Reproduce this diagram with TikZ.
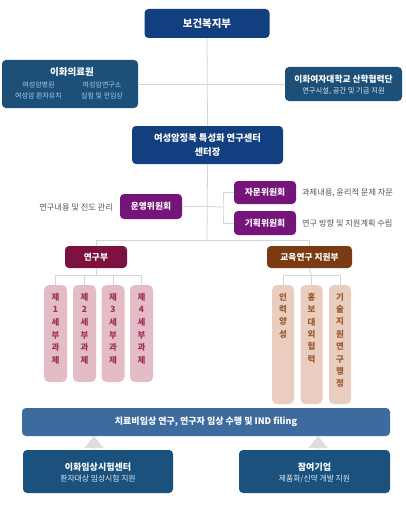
\documentclass[tikz,border=0pt]{standalone}
\usepackage{fontspec}
\setmainfont{Noto Sans CJK KR}
\usetikzlibrary{arrows.meta}
\definecolor{navy}{HTML}{123F7F}
\definecolor{teal}{HTML}{1D5079}
\definecolor{purp}{HTML}{75157A}
\definecolor{maroon}{HTML}{7D1240}
\definecolor{brownc}{HTML}{7A3A12}
\definecolor{pinkc}{HTML}{E3BCC6}
\definecolor{pinkt}{HTML}{A0305A}
\definecolor{tanc}{HTML}{E9CDBE}
\definecolor{tant}{HTML}{9A5A30}
\definecolor{barc}{HTML}{3D6B9D}
\definecolor{botc}{HTML}{1B527D}
\definecolor{linec}{HTML}{D5D5D5}
\definecolor{sidet}{HTML}{555555}
\definecolor{subblue}{HTML}{A9CBEA}
\definecolor{subw}{HTML}{DCE8F4}
\definecolor{arrc}{HTML}{DEDEDE}
\tikzset{
  box/.style={rounded corners=4pt, inner sep=0pt, align=center, text=white},
  ttl/.style={font=\bfseries\fontsize{9}{12}\selectfont, text=white, align=center, inner sep=0pt},
  subt/.style={font=\fontsize{7}{10.5}\selectfont, align=center, inner sep=0pt},
  side/.style={font=\fontsize{8.2}{10}\selectfont, text=sidet, inner sep=0pt},
  conn/.style={draw=linec, line width=0.8pt},
  pcol/.style={rounded corners=5pt, fill=pinkc, minimum width=23pt, minimum height=97pt, inner sep=0pt},
  tcol/.style={rounded corners=5pt, fill=tanc, minimum width=22pt, minimum height=119pt, inner sep=0pt},
  ctxt/.style={font=\bfseries\fontsize{8.5}{12.7}\selectfont, align=center, inner sep=0pt, anchor=north},
}
\begin{document}
\begin{tikzpicture}[x=1pt,y=-1pt]
\useasboundingbox (0,0) rectangle (405,511);
\fill[white] (0,0) rectangle (405,511);

% top
\node[box, fill=navy, minimum width=125pt, minimum height=29pt, font=\bfseries\fontsize{10.5}{12}\selectfont] (mohw) at (207,23.5) {보건복지부};

% side boxes
\node[box, fill=teal, minimum width=136pt, minimum height=48pt] (ewmc) at (70,84) {};
\node[ttl, font=\bfseries\fontsize{9.5}{12}\selectfont] (ewmct) at (72,71.5) {이화의료원};
\node[subt, text=subblue] (ewmc1) at (38.5,90.5) {여성암병원\\여성암 환자유치};
\node[subt, text=subblue] (ewmc2) at (102,90.5) {여성암연구소\\실험 및 전임상};

\node[box, fill=teal, minimum width=117pt, minimum height=34pt] (sanhak) at (343.5,84) {};
\node[ttl, font=\bfseries\fontsize{8.7}{11}\selectfont] (sanhakt) at (343.5,79) {이화여자대학교 산학협력단};
\node[subt, text=subw, font=\fontsize{7.3}{9}\selectfont] (sanhaks) at (343.5,91) {연구시설, 공간 및 기금 지원};

% center
\node[box, fill=navy, minimum width=151pt, minimum height=38pt, font=\bfseries\fontsize{9.3}{14}\selectfont] (center) at (207.5,145) {여성암정복 특성화 연구센터\\센터장};

% connectors top
\draw[conn] (mohw.south) -- (center.north);
\draw[conn] (ewmc.east |- sanhak.west) -- (sanhak.west);

% committees
\node[box, fill=purp, minimum width=62pt, minimum height=25pt, font=\bfseries\fontsize{8.7}{11}\selectfont] (unyeong) at (151,206.5) {운영위원회};
\node[box, fill=purp, minimum width=62pt, minimum height=23pt, font=\bfseries\fontsize{8.7}{11}\selectfont] (jamun) at (265,192.5) {자문위원회};
\node[box, fill=purp, minimum width=62pt, minimum height=24pt, font=\bfseries\fontsize{8.7}{11}\selectfont] (gihoek) at (265,223) {기획위원회};
\node[side, anchor=east] (unyeongs) at (113,207) {연구내용 및 진도 관리};
\node[side, anchor=west] (jamuns) at (302,192.5) {과제내용, 윤리적 문제 자문};
\node[side, anchor=west] (gihoeks) at (302,223) {연구 방향 및 지원계획 수립};

\coordinate (junc) at (207,240);
\coordinate (brk) at (223,207);
\draw[conn] (center.south) -- (junc);
\draw[conn] (unyeong.east) -- (unyeong.east -| junc);
\draw[conn] (unyeong.east -| junc) -- (brk);
\draw[conn] (jamun.west) -| (brk) |- (gihoek.west);

% departments
\node[box, fill=maroon, minimum width=62pt, minimum height=22pt, font=\bfseries\fontsize{8.7}{11}\selectfont] (yeongu) at (96,257) {연구부};
\node[box, fill=brownc, minimum width=85pt, minimum height=22pt, font=\bfseries\fontsize{8.7}{11}\selectfont] (edu) at (309.5,257) {교육연구 지원부};
\draw[conn] (yeongu.north) -- (yeongu.north |- junc) -- (edu.north |- junc) -- (edu.north);

% research columns
\node[pcol] (p1) at (55.5,333.5) {};
\node[pcol] (p2) at (84.5,333.5) {};
\node[pcol] (p3) at (113,333.5) {};
\node[pcol] (p4) at (141.5,333.5) {};
\node[ctxt, text=pinkt] (p1t) at ([yshift=-8pt]p1.north) {제\\1\\세\\부\\과\\제};
\node[ctxt, text=pinkt] (p2t) at ([yshift=-8pt]p2.north) {제\\2\\세\\부\\과\\제};
\node[ctxt, text=pinkt] (p3t) at ([yshift=-8pt]p3.north) {제\\3\\세\\부\\과\\제};
\node[ctxt, text=pinkt] (p4t) at ([yshift=-8pt]p4.north) {제\\4\\세\\부\\과\\제};
\coordinate (pb) at (96,275);
\draw[conn] (yeongu.south) -- (pb);
\draw[conn] (p1.north) -- (p1.north |- pb) -- (p4.north |- pb) -- (p4.north);
\draw[conn] (p2.north) -- (p2.north |- pb);
\draw[conn] (p3.north) -- (p3.north |- pb);

% edu columns
\node[tcol] (t1) at (283,344.5) {};
\node[tcol] (t2) at (311.5,344.5) {};
\node[tcol] (t3) at (340,344.5) {};
\node[ctxt, text=tant, font=\bfseries\fontsize{8.5}{12.4}\selectfont] (t1t) at ([yshift=-8pt]t1.north) {인\\력\\양\\성};
\node[ctxt, text=tant, font=\bfseries\fontsize{8.5}{12.4}\selectfont] (t2t) at ([yshift=-8pt]t2.north) {홍\\보\\대\\외\\협\\력};
\node[ctxt, text=tant, font=\bfseries\fontsize{8.5}{12.4}\selectfont] (t3t) at ([yshift=-8pt]t3.north) {기\\술\\지\\원\\연\\구\\행\\정};
\coordinate (tb) at (311.5,275);
\draw[conn] (edu.south) -- (tb);
\draw[conn] (t1.north) -- (t1.north |- tb) -- (t3.north |- tb) -- (t3.north);
\draw[conn] (t2.north) -- (t2.north |- tb);

% bar
\node[box, fill=barc, minimum width=368pt, minimum height=28pt, font=\bfseries\fontsize{9}{11}\selectfont] (bar) at (206,422) {치료비임상 연구, 연구자 임상 수행 및 IND filing};

% bottom boxes
\node[box, fill=botc, minimum width=150pt, minimum height=43pt] (ectc) at (98,471.5) {};
\node[ttl] (ectct) at (98,467) {이화임상시험센터};
\node[subt, text=subw, font=\fontsize{7.8}{9}\selectfont] (ectcs) at (98,478.5) {환자대상 임상시험 지원};
\node[box, fill=botc, minimum width=151pt, minimum height=43pt] (comp) at (314.5,471.5) {};
\node[ttl] (compt) at (314.5,467) {참여기업};
\node[subt, text=subw, font=\fontsize{7.8}{9}\selectfont] (comps) at (314.5,478.5) {제품화/신약 개발 지원};

% arrows
\draw[arrc, line width=0pt, -{Triangle[width=20pt,length=12pt]}] ([xshift=-4pt]ectc.north) -- ([xshift=-4pt]ectc.north |- bar.south);
\draw[arrc, line width=0pt, -{Triangle[width=20pt,length=12pt]}] ([xshift=3.5pt]comp.north) -- ([xshift=3.5pt]comp.north |- bar.south);
\end{tikzpicture}
\end{document}
